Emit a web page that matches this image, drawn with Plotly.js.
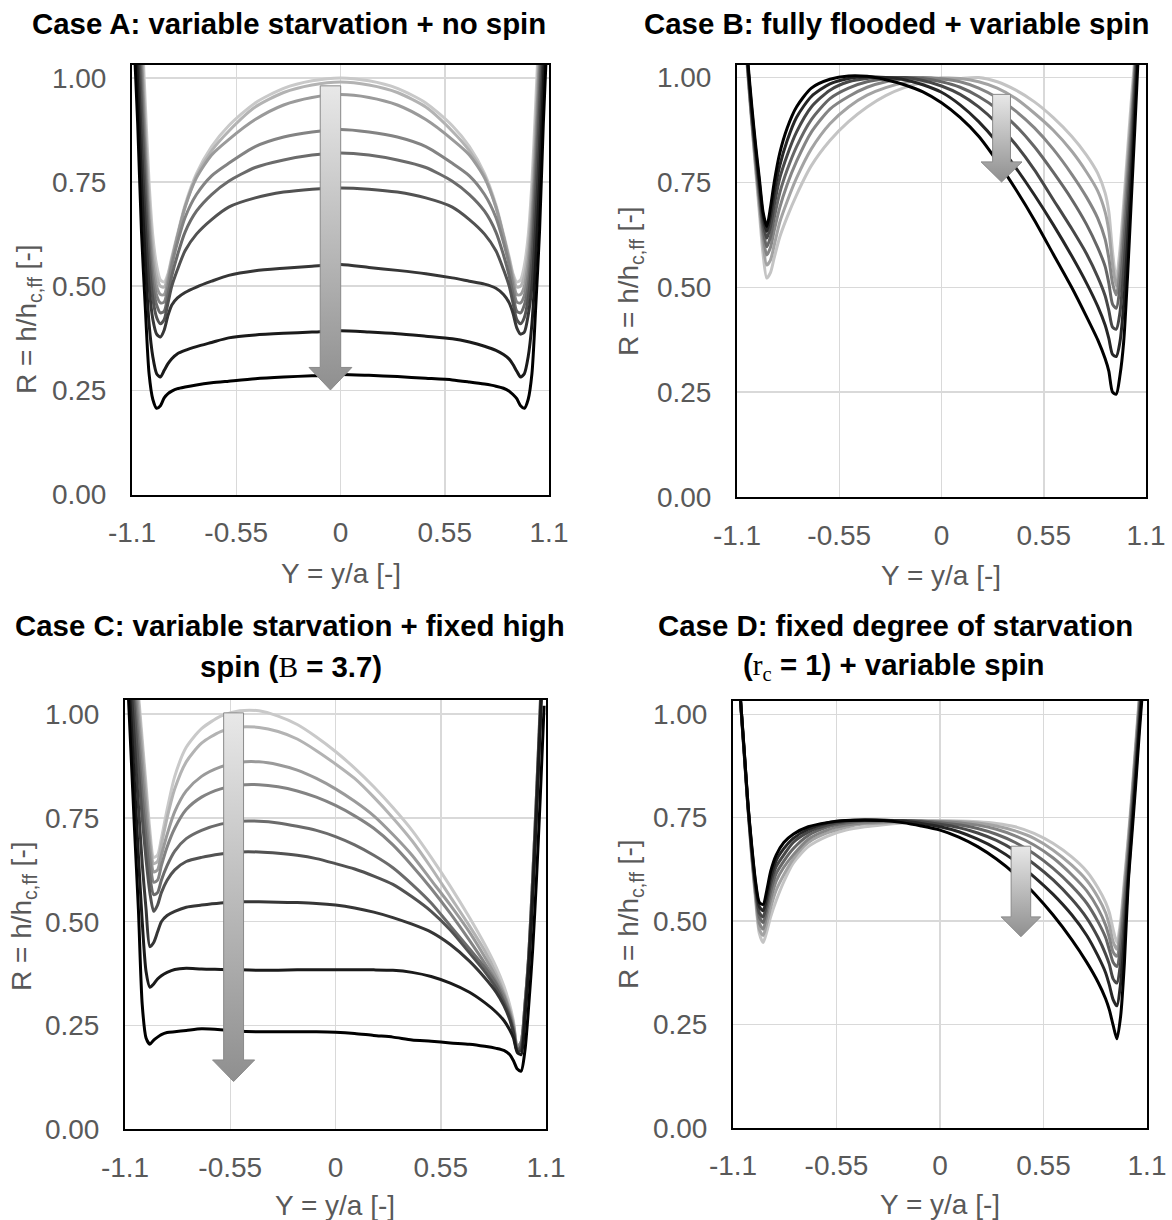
<!DOCTYPE html>
<html><head><meta charset="utf-8">
<script src="https://cdn.plot.ly/plotly-3.0.1.min.js"></script>
<style>html,body{margin:0;padding:0;background:#fff}#chart{width:1172px;height:1220px}</style>
</head><body><div id="chart"></div>
<script>
// ---------- tick labels ----------
const xTickVals = [-1.1, -0.55, 0, 0.55, 1.1];
const xTickText = ['-1.1', '-0.55', '0', '0.55', '1.1'];
const yTickVals = [0, 0.25, 0.5, 0.75, 1.0];
const yTickText = ['0.00', '0.25', '0.50', '0.75', '1.00'];

// ---------- Case A: variable starvation + no spin ----------
const G_A = [-1.09,-1.07,-1.05,-1.03,-1.01,-0.99,-0.97,-0.95,-0.93,-0.91,-0.89,-0.86,-0.82,-0.76,-0.68,-0.59,-0.45,-0.3,-0.15,0,0.15,0.3,0.45,0.59,0.68,0.76,0.82,0.86,0.89,0.91,0.93,0.95,0.97,0.99,1.01,1.03,1.05,1.07,1.09];
const A1 = [1.6,1.36,1.15,0.94,0.75,0.62,0.55,0.515,0.51,0.53,0.57,0.625,0.695,0.77,0.835,0.885,0.94,0.975,0.993,1.0,0.993,0.975,0.94,0.885,0.835,0.77,0.695,0.625,0.57,0.53,0.51,0.515,0.55,0.62,0.75,0.94,1.15,1.36,1.6];
const A2 = [1.55,1.31,1.1,0.89,0.71,0.59,0.525,0.5,0.498,0.525,0.565,0.62,0.69,0.765,0.825,0.872,0.93,0.965,0.983,0.99,0.983,0.965,0.93,0.872,0.825,0.765,0.69,0.62,0.565,0.525,0.498,0.5,0.525,0.59,0.71,0.89,1.1,1.31,1.55];
const A3 = [1.5,1.27,1.06,0.85,0.67,0.56,0.5,0.48,0.48,0.515,0.56,0.62,0.69,0.76,0.815,0.852,0.9,0.935,0.953,0.96,0.953,0.935,0.9,0.852,0.815,0.76,0.69,0.62,0.56,0.515,0.48,0.48,0.5,0.56,0.67,0.85,1.06,1.27,1.5];
const A4 = [1.45,1.22,1.02,0.81,0.64,0.53,0.478,0.46,0.462,0.5,0.55,0.605,0.665,0.72,0.765,0.795,0.835,0.858,0.87,0.876,0.87,0.858,0.835,0.795,0.765,0.72,0.665,0.605,0.55,0.5,0.462,0.46,0.478,0.53,0.64,0.81,1.02,1.22,1.45];
const A5 = [1.4,1.18,0.97,0.77,0.6,0.5,0.455,0.436,0.44,0.48,0.525,0.575,0.63,0.68,0.72,0.752,0.785,0.803,0.815,0.82,0.815,0.803,0.785,0.752,0.72,0.68,0.63,0.575,0.525,0.48,0.44,0.436,0.455,0.5,0.6,0.77,0.97,1.18,1.4];
const A6 = [1.35,1.13,0.92,0.72,0.56,0.47,0.425,0.41,0.42,0.46,0.5,0.54,0.585,0.625,0.66,0.69,0.712,0.726,0.733,0.736,0.733,0.726,0.712,0.69,0.66,0.625,0.585,0.54,0.5,0.46,0.42,0.41,0.425,0.47,0.56,0.72,0.92,1.13,1.35];
const A7 = [1.28,1.06,0.84,0.65,0.5,0.42,0.385,0.378,0.395,0.43,0.455,0.472,0.485,0.498,0.512,0.526,0.537,0.543,0.548,0.552,0.545,0.538,0.53,0.52,0.512,0.505,0.495,0.48,0.46,0.435,0.4,0.385,0.39,0.43,0.5,0.65,0.84,1.06,1.28];
const A8 = [1.2,0.98,0.75,0.56,0.41,0.33,0.29,0.282,0.298,0.314,0.326,0.338,0.346,0.355,0.365,0.376,0.383,0.387,0.39,0.393,0.39,0.386,0.38,0.374,0.366,0.356,0.346,0.336,0.325,0.312,0.296,0.282,0.29,0.33,0.41,0.56,0.75,0.98,1.2];
const A9 = [1.1,0.89,0.63,0.45,0.29,0.228,0.207,0.213,0.232,0.242,0.248,0.254,0.258,0.263,0.268,0.272,0.278,0.282,0.285,0.288,0.286,0.283,0.279,0.275,0.27,0.265,0.26,0.255,0.248,0.24,0.23,0.213,0.207,0.228,0.29,0.45,0.63,0.89,1.1];

// ---------- Case B: fully flooded + variable spin ----------
const G_B = [-1.08,-1.06,-1.04,-1.02,-1.0,-0.98,-0.96,-0.94,-0.92,-0.9,-0.87,-0.83,-0.78,-0.7,-0.6,-0.5,-0.4,-0.3,-0.2,-0.1,0,0.1,0.2,0.3,0.4,0.5,0.6,0.7,0.78,0.84,0.88,0.9,0.92,0.94,0.96,0.98,1.0,1.02,1.04,1.06,1.08];
const B1 = [1.25,1.12,1.0,0.89,0.78,0.68,0.58,0.522,0.535,0.57,0.62,0.668,0.72,0.79,0.85,0.895,0.93,0.957,0.976,0.988,0.994,0.998,1.0,0.99,0.97,0.942,0.905,0.86,0.815,0.772,0.725,0.68,0.585,0.52,0.59,0.7,0.82,0.94,1.05,1.19,1.37];
const B2 = [1.25,1.12,1.0,0.89,0.79,0.695,0.605,0.553,0.565,0.6,0.655,0.705,0.76,0.83,0.89,0.93,0.958,0.976,0.988,0.995,0.999,0.998,0.99,0.975,0.95,0.915,0.875,0.825,0.775,0.73,0.68,0.635,0.555,0.503,0.56,0.67,0.79,0.91,1.03,1.18,1.36];
const B3 = [1.25,1.13,1.01,0.9,0.8,0.71,0.625,0.577,0.595,0.635,0.69,0.745,0.8,0.87,0.925,0.955,0.977,0.99,0.997,1.0,0.997,0.99,0.975,0.952,0.92,0.88,0.83,0.77,0.715,0.665,0.615,0.57,0.51,0.482,0.535,0.64,0.76,0.88,1.02,1.17,1.35];
const B4 = [1.25,1.13,1.01,0.9,0.81,0.72,0.64,0.597,0.62,0.665,0.725,0.78,0.835,0.9,0.95,0.975,0.99,0.997,1.0,0.998,0.99,0.977,0.955,0.925,0.885,0.835,0.775,0.71,0.65,0.595,0.55,0.51,0.46,0.45,0.5,0.6,0.72,0.85,1.0,1.16,1.34];
const B5 = [1.25,1.13,1.02,0.91,0.82,0.735,0.655,0.617,0.645,0.695,0.76,0.815,0.87,0.93,0.97,0.99,0.998,1.0,1.0,0.993,0.98,0.96,0.93,0.89,0.84,0.78,0.71,0.64,0.58,0.525,0.48,0.445,0.405,0.4,0.44,0.54,0.67,0.81,0.97,1.14,1.33];
const B6 = [1.25,1.14,1.02,0.92,0.83,0.75,0.67,0.633,0.67,0.725,0.79,0.85,0.905,0.955,0.985,0.998,1.002,1.0,0.995,0.983,0.965,0.935,0.895,0.845,0.785,0.72,0.65,0.575,0.51,0.455,0.41,0.378,0.34,0.335,0.37,0.46,0.6,0.76,0.93,1.11,1.3];
const B7 = [1.26,1.14,1.03,0.93,0.84,0.76,0.68,0.645,0.69,0.75,0.82,0.88,0.93,0.975,0.996,1.004,1.003,0.995,0.983,0.966,0.94,0.905,0.86,0.8,0.733,0.66,0.58,0.5,0.43,0.375,0.33,0.3,0.25,0.245,0.29,0.37,0.52,0.7,0.88,1.07,1.28];

// ---------- Case C: variable starvation + fixed high spin ----------
const G_C = [-1.09,-1.07,-1.05,-1.03,-1.01,-0.99,-0.97,-0.95,-0.93,-0.91,-0.88,-0.84,-0.78,-0.7,-0.6,-0.5,-0.4,-0.3,-0.2,-0.1,0,0.1,0.2,0.3,0.4,0.5,0.6,0.7,0.78,0.84,0.88,0.91,0.93,0.95,0.97,0.99,1.01,1.03,1.05,1.07,1.09];
const C1 = [1.4,1.28,1.16,1.05,0.94,0.83,0.72,0.655,0.66,0.7,0.77,0.85,0.92,0.965,0.995,1.008,1.008,0.995,0.975,0.945,0.91,0.87,0.825,0.775,0.72,0.655,0.585,0.51,0.445,0.39,0.345,0.3,0.26,0.2,0.21,0.3,0.42,0.6,0.8,1.03,1.25];
const C2 = [1.38,1.26,1.14,1.03,0.92,0.81,0.7,0.64,0.645,0.685,0.75,0.82,0.885,0.93,0.958,0.969,0.968,0.958,0.94,0.912,0.88,0.845,0.8,0.75,0.695,0.63,0.56,0.49,0.43,0.375,0.33,0.29,0.255,0.2,0.21,0.3,0.42,0.6,0.8,1.02,1.24];
const C3 = [1.36,1.23,1.11,1.0,0.89,0.78,0.68,0.62,0.625,0.66,0.71,0.765,0.815,0.85,0.873,0.884,0.885,0.878,0.865,0.845,0.82,0.79,0.755,0.71,0.66,0.6,0.54,0.475,0.415,0.365,0.325,0.285,0.25,0.2,0.21,0.3,0.42,0.6,0.8,1.02,1.24];
const C4 = [1.33,1.2,1.08,0.96,0.85,0.74,0.65,0.595,0.6,0.635,0.68,0.725,0.77,0.8,0.82,0.829,0.83,0.825,0.815,0.8,0.78,0.755,0.725,0.685,0.635,0.58,0.52,0.455,0.4,0.355,0.32,0.28,0.245,0.195,0.21,0.3,0.42,0.6,0.8,1.01,1.23];
const C5 = [1.3,1.17,1.04,0.92,0.8,0.7,0.61,0.565,0.57,0.6,0.635,0.67,0.7,0.72,0.735,0.742,0.742,0.738,0.73,0.72,0.705,0.685,0.66,0.63,0.59,0.545,0.49,0.435,0.39,0.35,0.31,0.275,0.24,0.19,0.2,0.29,0.41,0.58,0.78,1.0,1.22];
const C6 = [1.26,1.13,1.0,0.87,0.75,0.65,0.57,0.525,0.54,0.57,0.6,0.625,0.645,0.655,0.663,0.668,0.668,0.665,0.66,0.652,0.64,0.627,0.61,0.59,0.56,0.525,0.48,0.425,0.38,0.34,0.305,0.27,0.235,0.19,0.2,0.29,0.41,0.58,0.78,1.0,1.22];
const C7 = [1.23,1.08,0.93,0.78,0.64,0.53,0.44,0.45,0.475,0.5,0.515,0.525,0.535,0.54,0.545,0.548,0.548,0.547,0.546,0.544,0.54,0.533,0.523,0.51,0.494,0.475,0.445,0.405,0.365,0.33,0.298,0.265,0.232,0.188,0.19,0.28,0.4,0.57,0.77,0.99,1.21];
const C8 = [1.17,1.0,0.83,0.66,0.5,0.38,0.342,0.35,0.362,0.37,0.378,0.385,0.388,0.386,0.385,0.384,0.383,0.383,0.384,0.384,0.384,0.384,0.384,0.383,0.378,0.368,0.352,0.33,0.305,0.282,0.262,0.24,0.22,0.185,0.18,0.27,0.39,0.56,0.76,0.98,1.2];
const C9 = [1.12,0.92,0.72,0.53,0.3,0.22,0.205,0.215,0.222,0.228,0.233,0.235,0.238,0.242,0.24,0.236,0.235,0.235,0.235,0.235,0.234,0.231,0.226,0.222,0.215,0.212,0.208,0.205,0.2,0.195,0.19,0.18,0.165,0.145,0.14,0.19,0.3,0.43,0.6,0.8,1.02];

// ---------- Case D: fixed degree of starvation + variable spin ----------
const G_D = [-1.08,-1.06,-1.04,-1.02,-1.0,-0.98,-0.96,-0.94,-0.92,-0.9,-0.87,-0.83,-0.78,-0.7,-0.6,-0.5,-0.4,-0.3,-0.2,-0.1,0,0.1,0.2,0.3,0.4,0.5,0.6,0.7,0.78,0.84,0.88,0.9,0.92,0.94,0.96,0.98,1.0,1.02,1.04,1.06,1.08];
const D1 = [1.16,1.03,0.9,0.77,0.65,0.55,0.47,0.448,0.475,0.51,0.55,0.595,0.64,0.68,0.705,0.72,0.728,0.733,0.737,0.74,0.742,0.742,0.74,0.736,0.728,0.712,0.688,0.655,0.62,0.58,0.545,0.52,0.48,0.448,0.5,0.6,0.7,0.81,0.93,1.05,1.17];
const D2 = [1.16,1.03,0.9,0.77,0.655,0.56,0.48,0.465,0.495,0.532,0.575,0.612,0.65,0.69,0.713,0.727,0.735,0.737,0.74,0.742,0.742,0.741,0.737,0.73,0.718,0.7,0.672,0.635,0.598,0.557,0.52,0.49,0.45,0.432,0.485,0.585,0.69,0.8,0.92,1.04,1.16];
const D3 = [1.16,1.03,0.9,0.77,0.66,0.565,0.495,0.48,0.515,0.553,0.597,0.63,0.66,0.698,0.72,0.732,0.738,0.74,0.742,0.742,0.741,0.738,0.732,0.722,0.706,0.684,0.653,0.612,0.573,0.53,0.49,0.46,0.425,0.415,0.465,0.565,0.67,0.79,0.91,1.03,1.15];
const D4 = [1.16,1.03,0.905,0.775,0.665,0.575,0.51,0.496,0.53,0.572,0.615,0.645,0.675,0.707,0.727,0.737,0.742,0.742,0.743,0.742,0.738,0.733,0.724,0.71,0.69,0.663,0.628,0.585,0.543,0.498,0.46,0.43,0.4,0.39,0.44,0.54,0.65,0.77,0.89,1.01,1.13];
const D5 = [1.16,1.035,0.905,0.775,0.67,0.58,0.52,0.51,0.545,0.59,0.632,0.66,0.69,0.715,0.732,0.741,0.744,0.744,0.743,0.74,0.734,0.726,0.713,0.695,0.67,0.638,0.6,0.553,0.507,0.46,0.42,0.395,0.36,0.35,0.4,0.5,0.62,0.75,0.87,1.0,1.12];
const D6 = [1.16,1.035,0.91,0.78,0.675,0.59,0.535,0.525,0.56,0.605,0.647,0.675,0.7,0.722,0.737,0.743,0.745,0.744,0.742,0.736,0.728,0.716,0.698,0.675,0.645,0.607,0.565,0.515,0.465,0.415,0.375,0.345,0.31,0.295,0.35,0.46,0.6,0.73,0.85,0.98,1.1];
const D7 = [1.16,1.035,0.91,0.78,0.68,0.595,0.545,0.54,0.575,0.62,0.66,0.69,0.71,0.728,0.738,0.743,0.744,0.743,0.738,0.73,0.72,0.703,0.68,0.65,0.613,0.567,0.515,0.455,0.4,0.352,0.312,0.285,0.248,0.215,0.27,0.4,0.59,0.71,0.83,0.96,1.08];

// ---------- trend arrows: [centre Y, top R, head-start R, tip R, shaft half-width, head half-width] ----------
const arrowA = [-0.053, 0.981, 0.305, 0.251, 0.054, 0.113];
const arrowB = [0.323, 0.960, 0.799, 0.751, 0.048, 0.110];
const arrowC = [-0.5325, 1.003, 0.167, 0.115, 0.052, 0.110];
const arrowD = [0.430, 0.681, 0.510, 0.462, 0.052, 0.105];

// ---------- styles ----------
const grays9 = ['#c9c9c9','#b3b3b3','#9a9a9a','#838383','#6b6b6b','#525252','#363636','#1a1a1a','#000000'];
const grays7 = ['#c4c4c4','#a3a3a3','#858585','#666666','#474747','#262626','#000000'];
const FONT = 'Liberation Sans, Arial, sans-serif';
const W = 1172, H = 1220;
const fx = v => v / W, fy = v => 1 - v / H;

const traces = [];
function addCurves(grid, curves, colors, xa, ya) {
  curves.forEach((c, i) => traces.push({
    type: 'scatter', mode: 'lines', x: grid, y: c, xaxis: xa, yaxis: ya,
    line: {color: colors[i], width: 3, shape: 'spline', smoothing: 0.7},
    hoverinfo: 'skip', showlegend: false
  }));
}
function addArrow(p, xa, ya) {
  const [cx, top, head, tip, hs, hh] = p;
  traces.push({
    type: 'scatter', mode: 'lines', xaxis: xa, yaxis: ya,
    x: [cx - hs, cx + hs, cx + hs, cx + hh, cx, cx - hh, cx - hs, cx - hs],
    y: [top, top, head, head, tip, head, head, top],
    fill: 'toself',
    fillgradient: {type: 'vertical', start: tip, stop: top, colorscale: [[0, '#8f8f8f'], [1, '#e8e8e8']]},
    line: {color: '#8a8a8a', width: 1},
    hoverinfo: 'skip', showlegend: false
  });
}
addCurves(G_A, [A1,A2,A3,A4,A5,A6,A7,A8,A9], grays9, 'x', 'y');
addArrow(arrowA, 'x', 'y');
addCurves(G_B, [B1,B2,B3,B4,B5,B6,B7], grays7, 'x2', 'y2');
addArrow(arrowB, 'x2', 'y2');
addCurves(G_C, [C1,C2,C3,C4,C5,C6,C7,C8,C9], grays9, 'x3', 'y3');
addArrow(arrowC, 'x3', 'y3');
addCurves(G_D, [D1,D2,D3,D4,D5,D6,D7], grays7, 'x4', 'y4');
addArrow(arrowD, 'x4', 'y4');

function xAxis(px0, px1, anchor) {
  return {domain: [fx(px0), fx(px1)], anchor: anchor, range: [-1.1, 1.1],
    tickvals: xTickVals, ticktext: xTickText, ticks: '', ticklabelstandoff: 12,
    showgrid: true, gridcolor: '#d9d9d9', gridwidth: 1.5, zeroline: false,
    showline: true, linecolor: '#000', linewidth: 2, mirror: true,
    tickfont: {family: FONT, size: 28, color: '#595959'}, fixedrange: true};
}
function yAxis(py0, py1, top, anchor) {
  return {domain: [fy(py1), fy(py0)], anchor: anchor, range: [0, top],
    tickvals: yTickVals, ticktext: yTickText, ticks: '', ticklabelstandoff: 18,
    showgrid: true, gridcolor: '#d9d9d9', gridwidth: 1.5, zeroline: false,
    showline: true, linecolor: '#000', linewidth: 2, mirror: true,
    tickfont: {family: FONT, size: 28, color: '#595959'}, fixedrange: true};
}

const titleFont = {family: FONT, size: 29.4, color: '#000', weight: 'bold'};
const axFont = {family: FONT, size: 28, color: '#595959'};
const SERIF = 'font-family:Liberation Serif;font-weight:normal';
function ann(text, x, y, font, angle) {
  return {text: text, xref: 'paper', yref: 'paper', x: fx(x), y: fy(y),
    xanchor: 'center', yanchor: 'middle', showarrow: false, font: font, textangle: angle || 0};
}
const rTitle = 'R = h/h<sub>c,ff</sub> [-]';
const yTitle = 'Y = y/a [-]';
const annotations = [
  ann('Case A: variable starvation + no spin', 289, 24, titleFont),
  ann('Case B: fully flooded + variable spin', 896, 24, titleFont),
  ann('Case C: variable starvation + fixed high', 290, 625, titleFont),
  ann('spin (<span style="' + SERIF + '">B</span> = 3.7)', 291, 666, titleFont),
  ann('Case D: fixed degree of starvation', 895, 625, titleFont),
  ann('(<span style="' + SERIF + '">r<sub>c</sub></span> = 1) + variable spin', 894, 666, titleFont),
  ann(rTitle, 28, 319, axFont, -90),
  ann(rTitle, 630, 281, axFont, -90),
  ann(rTitle, 23, 916, axFont, -90),
  ann(rTitle, 630, 914, axFont, -90),
  ann(yTitle, 340.5, 574, axFont),
  ann(yTitle, 941, 575, axFont),
  ann(yTitle, 335, 1205, axFont),
  ann(yTitle, 940, 1204, axFont)
];

const layout = {
  width: W, height: H, margin: {l: 0, r: 0, t: 0, b: 0},
  paper_bgcolor: '#fff', plot_bgcolor: '#fff', showlegend: false,
  font: {family: FONT},
  xaxis: xAxis(132, 549, 'y'),   yaxis: yAxis(65, 494.5, 1.031, 'x'),
  xaxis2: xAxis(737, 1146, 'y2'), yaxis2: yAxis(65, 497, 1.030, 'x2'),
  xaxis3: xAxis(125, 546, 'y3'), yaxis3: yAxis(700, 1129.3, 1.034, 'x3'),
  xaxis4: xAxis(733, 1147, 'y4'), yaxis4: yAxis(700.7, 1127.7, 1.033, 'x4'),
  annotations: annotations,
  hovermode: false
};
Plotly.newPlot('chart', traces, layout, {displayModeBar: false, staticPlot: true});
</script>
</body></html>
